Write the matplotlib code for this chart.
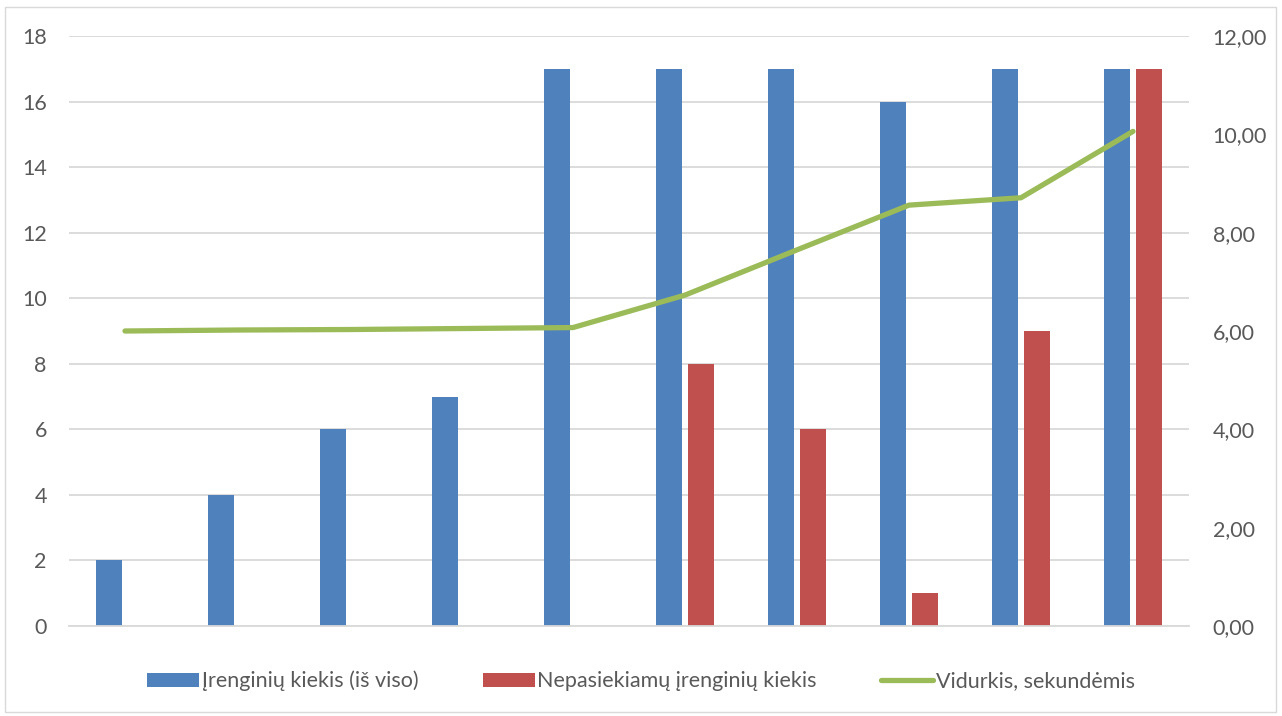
import matplotlib
matplotlib.use("Agg")
from matplotlib import pyplot as plt
from matplotlib.ticker import FuncFormatter
import numpy as np

plt.rcParams['font.family'] = ['Lato', 'DejaVu Sans']

# duomenys
kategorijos = list(range(1, 11))
irenginiu_kiekis = [2, 4, 6, 7, 17, 17, 17, 16, 17, 17]
nepasiekiamu_kiekis = [0, 0, 0, 0, 0, 8, 6, 1, 9, 17]
vidurkis = [6.00, 6.02, 6.03, 6.05, 6.07, 6.73, 7.65, 8.56, 8.71, 10.06]

spalva_tekstas = "#595959"
spalva_tinklas = "#d9d9d9"
fs = 15.5

fig = plt.figure(figsize=(12.82, 7.16), dpi=100)
ax = fig.add_axes([69 / 1282, 1 - 626 / 716, 1120 / 1282, 590 / 716])
ax2 = ax.twinx()

x = np.arange(len(kategorijos))
w = 0.232
b1 = ax.bar(x - 0.143, irenginiu_kiekis, w, color="#4F81BD", zorder=2)
b2 = ax.bar(x + 0.143, nepasiekiamu_kiekis, w, color="#C0504D", zorder=2)
l1, = ax2.plot(x, vidurkis, color="#9BBB59", linewidth=3.8,
               solid_capstyle="round", solid_joinstyle="round")

ax.set_xlim(-0.5, len(x) - 0.5)
ax.set_ylim(0, 18)
ax.set_yticks(range(0, 19, 2))
ax2.set_ylim(0, 12)
ax2.set_yticks(range(0, 13, 2))
ax2.yaxis.set_major_formatter(FuncFormatter(lambda v, p: "{:.2f}".format(v).replace(".", ",")))

ax.set_xticks([])
ax.yaxis.grid(True, color=spalva_tinklas, linewidth=1.3, zorder=0)
ax.set_axisbelow(True)
for a in (ax, ax2):
    for s in a.spines.values():
        s.set_visible(False)
    a.tick_params(length=0, labelsize=fs, colors=spalva_tekstas)
ax.tick_params(axis="y", pad=16)
ax2.tick_params(axis="y", pad=17)
ax.spines["bottom"].set_visible(True)
ax.spines["bottom"].set_color(spalva_tinklas)
ax.spines["bottom"].set_linewidth(1.3)

fig.legend([b1, b2, l1],
           ["Įrenginių kiekis (iš viso)", "Nepasiekiamų įrenginių kiekis", "Vidurkis, sekundėmis"],
           loc="center", bbox_to_anchor=(0.5, 1 - 681 / 716), ncol=3, frameon=False,
           fontsize=fs, labelcolor=spalva_tekstas, handlelength=2.4, handleheight=0.65,
           handletextpad=0.12, columnspacing=3.0)

# rėmelis aplink diagramą
fig.patches.append(plt.Rectangle((5 / 1282, 4 / 716), 1271 / 1282, 705 / 716, transform=fig.transFigure,
                                 fill=False, edgecolor="#d9d9d9", linewidth=1))

fig.savefig("out.png", dpi=100)
